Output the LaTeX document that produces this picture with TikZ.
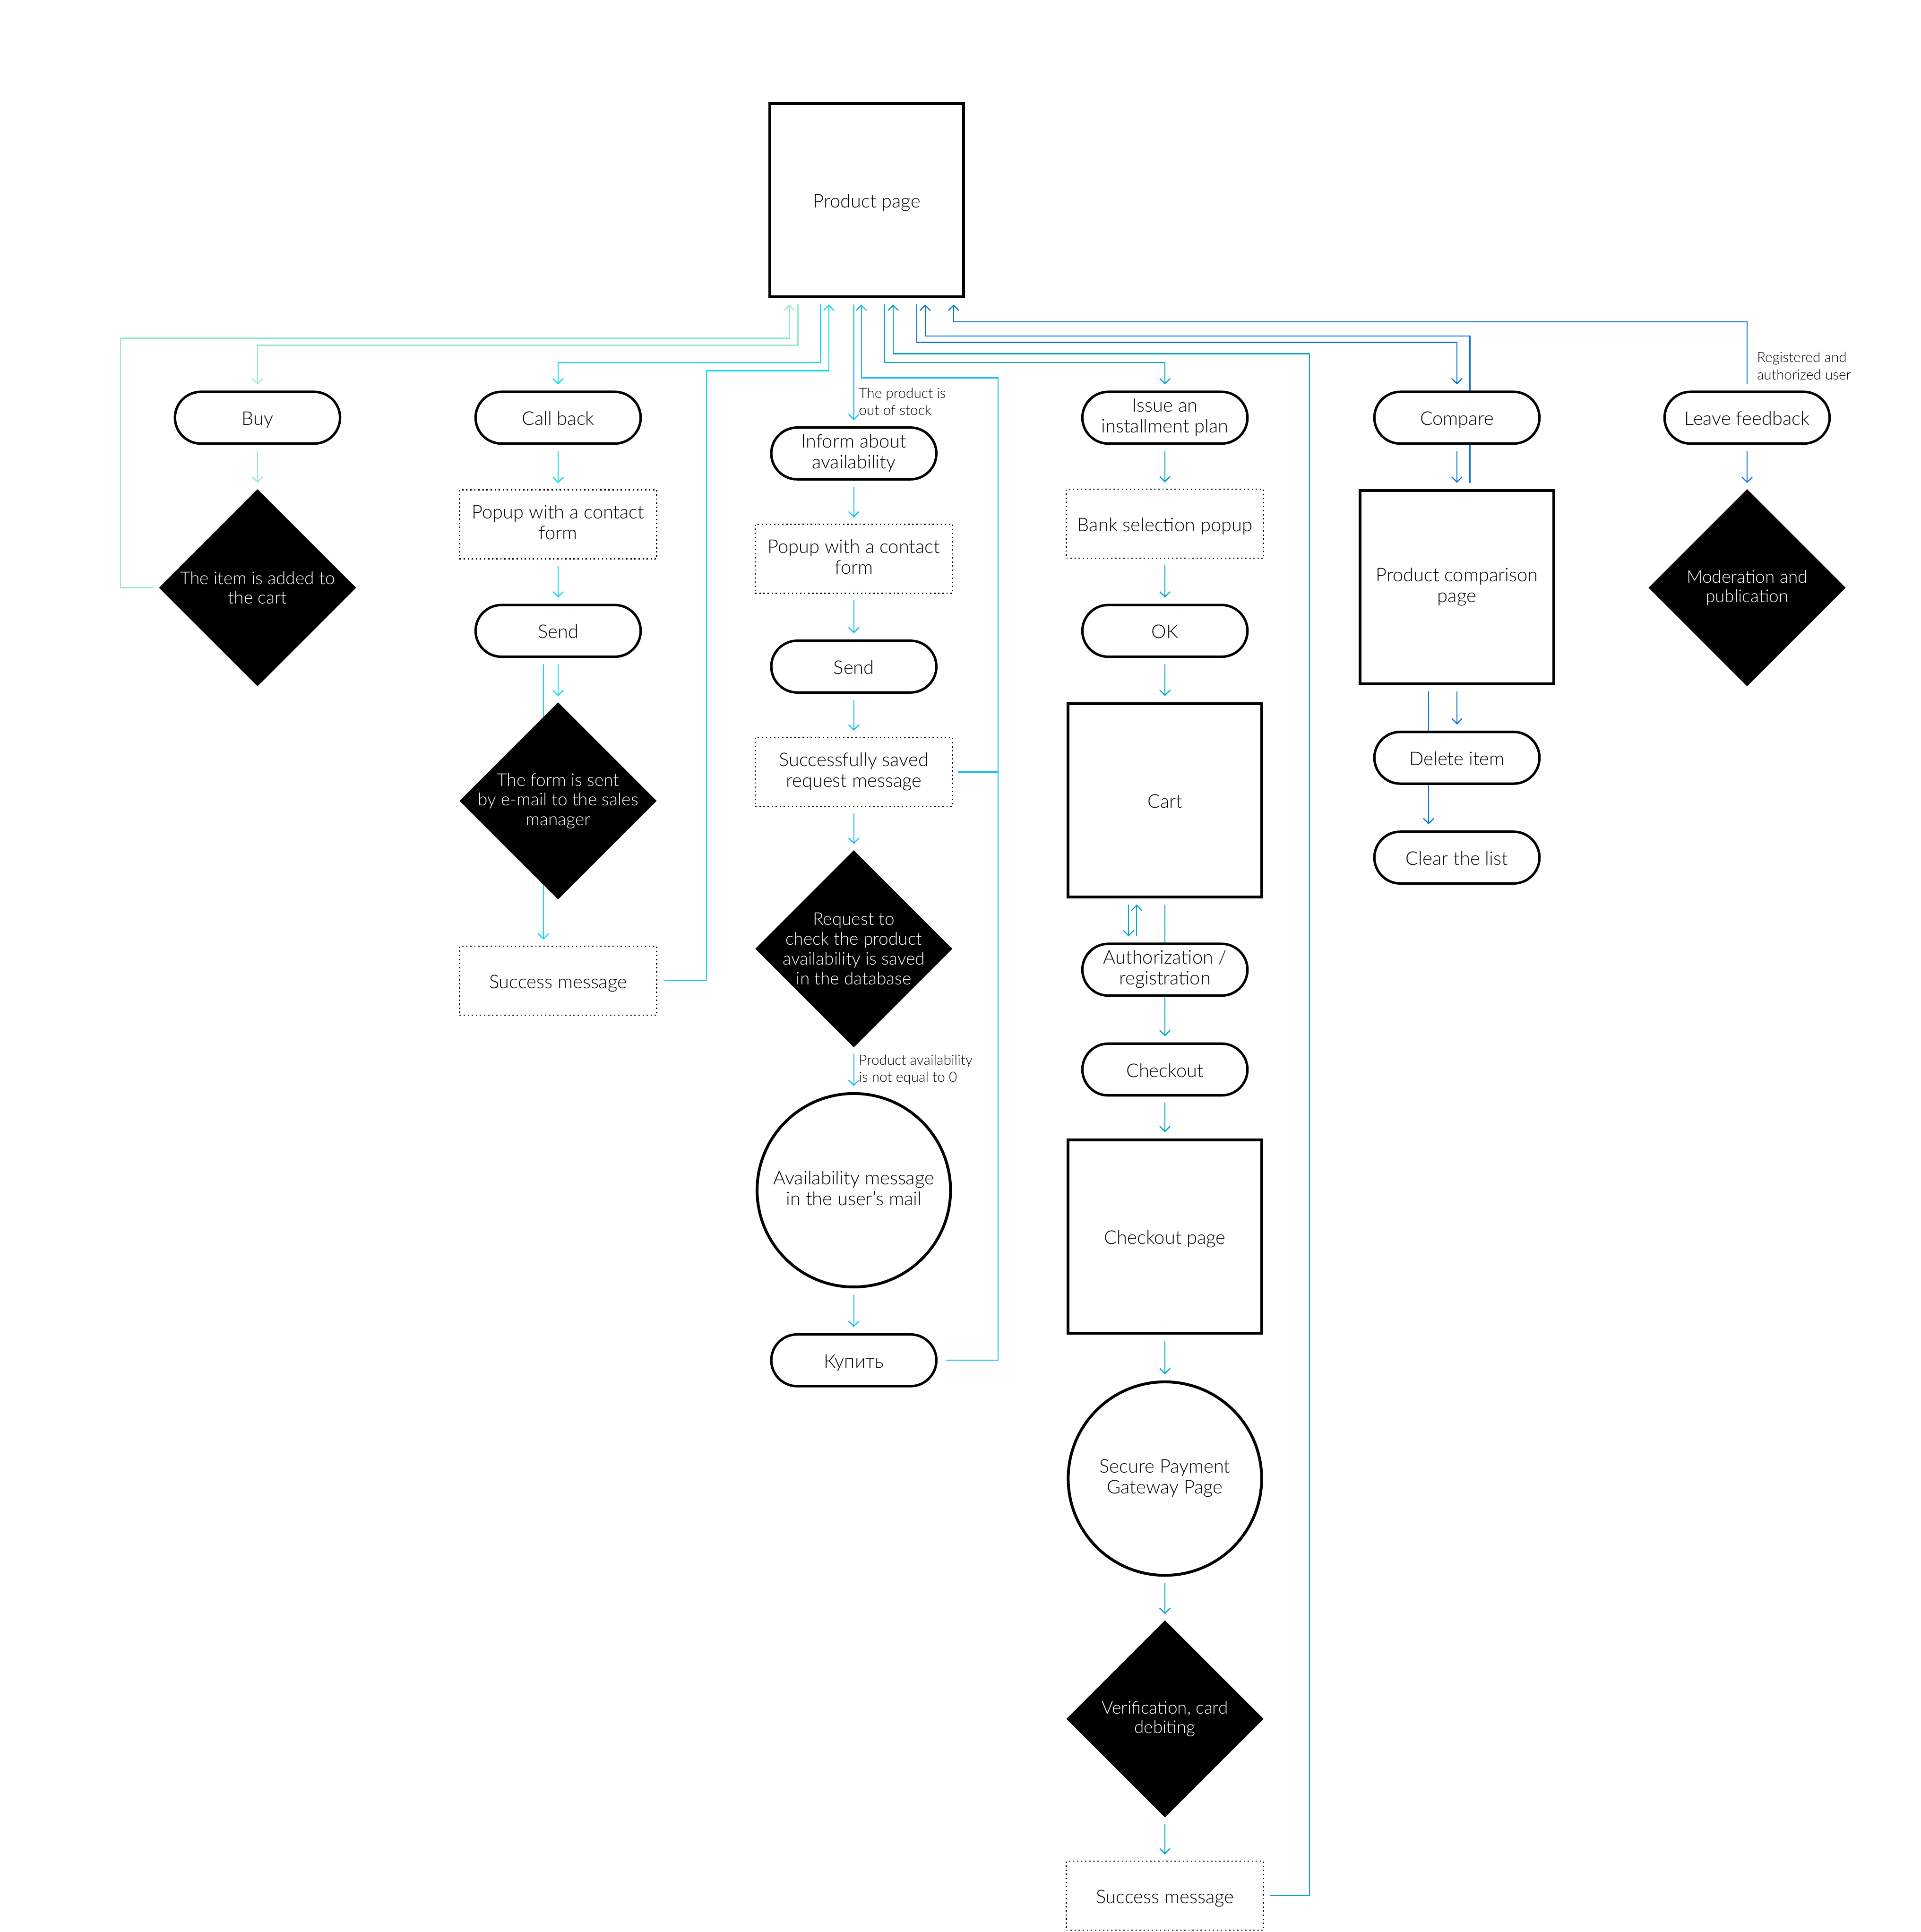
\documentclass[tikz,border=0pt]{standalone}
\usepackage{fontspec}
\setmainfont{Lato Light}
\usetikzlibrary{arrows.meta,shapes.geometric}
\definecolor{cLG}{HTML}{96EBC8}
\definecolor{cCY}{HTML}{0BDDEA}
\definecolor{cSB}{HTML}{12BDF6}
\definecolor{cTL}{HTML}{04A8C2}
\definecolor{cBL}{HTML}{0B72D9}
\pgfdeclarelayer{bg}
\pgfsetlayers{bg,main}
\tikzset{
  basetext/.style={font=\fontsize{43.5}{48.4}\selectfont, align=center, inner sep=0pt, text=black,
    execute at begin node={\rule{0pt}{45pt}}, execute at end node={\rule[-10pt]{0pt}{0pt}}},
  pagebox/.style={basetext, draw, line width=2.3mm, fill=white, minimum width=157mm, minimum height=157mm},
  pill/.style={basetext, draw, line width=2mm, fill=white, rounded corners=21mm, minimum width=134mm, minimum height=42mm},
  popup/.style={basetext, draw, line width=0.9mm, dash pattern=on 1.1mm off 2.2mm, fill=white, minimum width=160mm, minimum height=56mm},
  dia/.style={diamond, fill=black, minimum width=160mm, minimum height=160mm, inner sep=0pt},
  diatext/.style={font=\fontsize{40.5}{45.5}\selectfont, text=white, align=center, inner sep=0pt},
  circnode/.style={basetext, circle, draw, line width=2.3mm, fill=white, minimum size=157mm},
  smalllabel/.style={font=\fontsize{32.5}{39.8}\selectfont, align=left, anchor=west, inner sep=0pt},
  conn/.style={line width=0.9mm, shorten <=5mm, shorten >=5mm},
  arr/.style={conn, -{Straight Barb[length=4.2mm,width=8.5mm]}},
}
\begin{document}
\begin{tikzpicture}[x=1mm,y=-1mm]
\useasboundingbox (0,0) rectangle (1559,1568);
% ---------- nodes ----------
\node[pagebox] (pp) at (703.5,162.5) {Product page};
% column 1
\node[pill] (buy) at (209,339) {Buy};
\node[dia] (d1) at (209,477) {};
\node[diatext] (d1t) at (d1) {The item is added to\\the cart};
% column 2
\node[pill] (cb) at (453,339) {Call back};
\node[popup] (pop1) at (453,425.5) {Popup with a contact\\form};
\node[pill] (send1) at (453,512) {Send};
\node[dia] (d2) at (453,650) {};
\node[diatext] (d2t) at (d2) {The form is sent\\by e-mail to the sales\\manager};
\node[popup] (s1) at (453,796) {Success message};
% column 3
\node[pill] (inf) at (693,368) {Inform about\\availability};
\node[popup] (pop2) at (693,453.5) {Popup with a contact\\form};
\node[pill] (send2) at (693,541) {Send};
\node[popup] (saved) at (693,626.5) {Successfully saved\\request message};
\node[dia] (d3) at (693,770) {};
\node[diatext] (d3t) at (d3) {Request to\\check the product\\availability is saved\\in the database};
\node[circnode] (c1) at (693,966) {Availability message\\in the user's mail};
\node[pill] (kup) at (693,1104) {Купить};
\coordinate (sbx) at (810,1104);
% column 4
\node[pill] (iss) at (945.5,339) {Issue an\\installment plan};
\node[popup] (bank) at (945.5,425) {Bank selection popup};
\node[pill] (ok) at (945.5,512) {OK};
\node[pagebox] (cart) at (945.5,649.5) {Cart};
\node[pill] (auth) at (945.5,787) {Authorization /\\registration};
\node[pill] (chk) at (945.5,868) {Checkout};
\node[pagebox] (chkp) at (945.5,1003.5) {Checkout page};
\node[circnode] (c2) at (945.5,1200) {Secure Payment\\Gateway Page};
\node[dia] (d4) at (945.5,1395) {};
\node[diatext] (d4t) at (d4) {Verification, card\\debiting};
\node[popup] (s2) at (945.5,1538.5) {Success message};
% column 5
\node[pill] (cmp) at (1182.5,339) {Compare};
\node[pagebox] (cmpp) at (1182.5,476.5) {Product comparison\\page};
\node[pill] (del) at (1182.5,615) {Delete item};
\node[pill] (clr) at (1182.5,696) {Clear the list};
% column 6
\node[pill] (fb) at (1418,339) {Leave feedback};
\node[dia] (d6) at (1418,477) {};
\node[diatext] (d6t) at (d6) {Moderation and\\publication};
% labels
\node[smalllabel] (l1) at (697,326) {The product is\\out of stock};
\node[smalllabel] (l2) at (697,868) {Product availability\\is not equal to 0};
\node[smalllabel] (l3) at (1426,297) {Registered and\\authorized user};
% ---------- connectors ----------
\begin{pgfonlayer}{bg}
\fill[white] (0,0) rectangle (1559,1568);
% column 1
\draw[arr,cLG] ([xshift=-55.8mm]pp.south) -- ++(0,38.1) -| (buy.north);
\draw[arr,cLG] (buy.south) -- (d1.north);
\draw[arr,cLG] (d1.west) -- ++(-31,0) |- ([xshift=-62.8mm,yshift=-32.3mm]pp.south) -- ([xshift=-62.8mm]pp.south);
% column 2
\draw[arr,cCY] ([xshift=-37.5mm]pp.south) -- ++(0,52) -| (cb.north);
\draw[arr,cCY] (cb.south) -- (pop1.north);
\draw[arr,cCY] (pop1.south) -- (send1.north);
\draw[arr,cCY] (send1.south) -- (d2.north);
\draw[arr,cCY] ([xshift=-12mm]send1.south) -- ([xshift=-12mm]s1.north);
\draw[arr,cCY] (s1.east) -- ++(40,0) |- ([xshift=-30.8mm,yshift=-58.8mm]pp.south) -- ([xshift=-30.8mm]pp.south);
% column 3
\draw[arr,cSB] ([xshift=-10.5mm]pp.south) -- (inf.north);
\draw[arr,cSB] (inf.south) -- (pop2.north);
\draw[arr,cSB] (pop2.south) -- (send2.north);
\draw[arr,cSB] (send2.south) -- (saved.north);
\draw[arr,cSB] (saved.south) -- (d3.north);
\draw[arr,cSB] (d3.south) -- (c1.north);
\draw[arr,cSB] (c1.south) -- (kup.north);
\draw[cSB,line width=0.9mm,shorten <=4mm] (saved.east) -- (saved.east -| sbx);
\draw[arr,cSB,shorten <=7mm] (kup.east) -- (sbx) |- ([xshift=-4.4mm,yshift=-64.5mm]pp.south) -- ([xshift=-4.4mm]pp.south);
% column 4
\draw[arr,cTL] ([xshift=14.3mm]pp.south) -- ++(0,52) -| (iss.north);
\draw[arr,cTL] (iss.south) -- (bank.north);
\draw[arr,cTL] (bank.south) -- (ok.north);
\draw[arr,cTL] (ok.south) -- (cart.north);
\draw[arr,cTL] ([xshift=-29.5mm]cart.south) -- ([xshift=-29.5mm]auth.north);
\draw[arr,cTL] ([xshift=-23mm]auth.north) -- ([xshift=-23mm]cart.south);
\draw[arr,cTL] (cart.south) -- (chk.north);
\draw[arr,cTL] (chk.south) -- (chkp.north);
\draw[arr,cTL] (chkp.south) -- (c2.north);
\draw[arr,cTL] (c2.south) -- (d4.north);
\draw[arr,cTL] (d4.south) -- (s2.north);
\draw[arr,cTL] (s2.east) -- ++(37,0) |- ([xshift=21.4mm,yshift=-45mm]pp.south) -- ([xshift=21.4mm]pp.south);
% column 5
\draw[arr,cBL] ([xshift=40.5mm]pp.south) -- ++(0,35.8) -| (cmp.north);
\draw[arr,cBL] ([xshift=10.5mm]cmpp.north) |- ([xshift=47.4mm,yshift=-30.5mm]pp.south) -- ([xshift=47.4mm]pp.south);
\draw[arr,cBL] (cmp.south) -- (cmpp.north);
\draw[arr,cBL] (cmpp.south) -- (del.north);
\draw[arr,cBL] ([xshift=-23mm]cmpp.south) -- ([xshift=-23mm]clr.north);
% column 6
\draw[arr,cBL] (fb.north) |- ([xshift=70.5mm,yshift=-19mm]pp.south) -- ([xshift=70.5mm]pp.south);
\draw[arr,cBL] (fb.south) -- (d6.north);
\end{pgfonlayer}
\end{tikzpicture}
\end{document}
